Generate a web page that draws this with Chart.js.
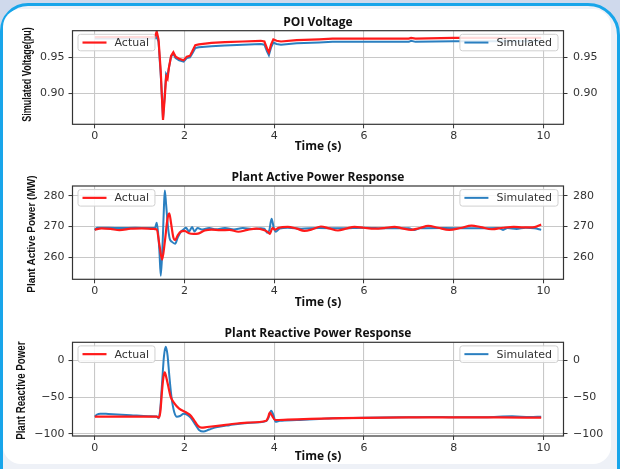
<!DOCTYPE html>
<html>
<head>
<meta charset="utf-8">
<script src="https://cdn.jsdelivr.net/npm/chart.js@4.4.0/dist/chart.umd.min.js"></script>
<style>
html,body{margin:0;padding:0;}
body{width:620px;height:469px;background:#cfd9ec;position:relative;overflow:hidden;}
#frame{position:absolute;left:0;top:3px;width:620px;height:472px;box-sizing:border-box;border:3px solid #18a5ea;border-radius:28px 32px 0 0;background:#eef1f7;}
#panel{position:absolute;left:0px;top:3px;right:6px;bottom:8px;background:#fff;border-radius:18px;}
canvas{position:absolute;left:0;}
</style>
</head>
<body>
<div id="frame"><div id="panel"></div></div>
<canvas id="c1" width="620" height="156" style="top:0px"></canvas>
<canvas id="c2" width="620" height="156" style="top:156px"></canvas>
<canvas id="c3" width="620" height="157" style="top:312px"></canvas>
<script>
// ---------- DATA ----------
const timeTicks = [0, 2, 4, 6, 8, 10];
const voltTicks = [0.90, 0.95];
const powTicks = [260, 270, 280];
const reacTicks = [-100, -50, 0];

// POI voltage (pu)
const voltTime = [0, 0.5, 1.0, 1.34, 1.38, 1.42, 1.47, 1.52, 1.56, 1.59, 1.62, 1.65, 1.70, 1.75, 1.80, 1.88, 1.98, 2.05, 2.12, 2.17, 2.24, 2.32, 2.6, 2.9, 3.3, 3.7, 3.78, 3.84, 3.88, 3.93, 3.98, 4.05, 4.15, 4.5, 5.0, 5.3, 6.0, 7.0, 7.05, 7.15, 8.0, 9.0, 9.95];
const voltActual = [0.978, 0.978, 0.978, 0.978, 0.986, 0.975, 0.930, 0.863, 0.895, 0.923, 0.920, 0.935, 0.952, 0.957, 0.951, 0.948, 0.946, 0.951, 0.952, 0.958, 0.967, 0.968, 0.970, 0.971, 0.972, 0.973, 0.972, 0.962, 0.957, 0.968, 0.975, 0.973, 0.972, 0.974, 0.975, 0.976, 0.976, 0.976, 0.977, 0.976, 0.977, 0.977, 0.977];
const voltSimulated = [0.976, 0.976, 0.976, 0.976, 0.978, 0.972, 0.925, 0.865, 0.900, 0.927, 0.924, 0.935, 0.951, 0.955, 0.949, 0.946, 0.944, 0.949, 0.950, 0.955, 0.963, 0.964, 0.9655, 0.9665, 0.9675, 0.9685, 0.9675, 0.958, 0.953, 0.964, 0.9705, 0.9685, 0.9675, 0.9695, 0.9705, 0.9715, 0.9715, 0.9715, 0.973, 0.9715, 0.9725, 0.9725, 0.9725];

// Plant active power (MW)
const powTimeActual = [0, 0.15, 0.35, 0.55, 0.8, 1.05, 1.3, 1.38, 1.44, 1.5, 1.56, 1.62, 1.66, 1.70, 1.75, 1.79, 1.85, 1.92, 2.0, 2.1, 2.2, 2.3, 2.45, 2.6, 2.8, 3.0, 3.2, 3.4, 3.6, 3.78, 3.86, 3.9, 3.96, 4.02, 4.1, 4.3, 4.5, 4.67, 4.85, 5.04, 5.22, 5.42, 5.6, 5.79, 6.0, 6.23, 6.45, 6.68, 6.85, 7.05, 7.25, 7.43, 7.65, 7.9, 8.15, 8.4, 8.6, 8.85, 9.1, 9.34, 9.55, 9.8, 9.95];
const powActual = [269.0, 269.4, 269.2, 268.8, 269.3, 269.4, 269.2, 269.0, 264.0, 259.2, 265.0, 272.5, 274.3, 271.0, 266.5, 265.6, 267.2, 268.4, 268.6, 267.8, 267.6, 267.7, 268.7, 269.0, 268.8, 268.9, 268.3, 268.9, 269.3, 268.8, 268.2, 267.6, 269.5, 269.0, 269.6, 269.9, 269.3, 268.6, 269.1, 270.0, 269.4, 268.7, 269.3, 269.9, 269.6, 269.3, 269.5, 269.9, 269.4, 268.9, 269.5, 270.2, 269.6, 268.9, 269.5, 270.3, 269.8, 269.1, 269.6, 269.9, 269.7, 269.8, 270.6];
const powTimeSim = [0, 0.05, 0.3, 0.6, 0.9, 1.2, 1.34, 1.38, 1.41, 1.44, 1.47, 1.51, 1.54, 1.56, 1.59, 1.63, 1.67, 1.72, 1.79, 1.85, 1.93, 1.99, 2.03, 2.1, 2.17, 2.22, 2.29, 2.4, 2.55, 2.7, 2.9, 3.1, 3.3, 3.5, 3.7, 3.78, 3.84, 3.89, 3.94, 3.99, 4.03, 4.12, 4.3, 4.6, 5.0, 5.5, 6.0, 6.5, 7.0, 7.12, 7.25, 7.8, 8.4, 9.0, 9.1, 9.2, 9.4, 9.6, 9.8, 9.95];
const powSimulated = [268.8, 269.6, 269.6, 269.5, 269.6, 269.5, 269.5, 271.2, 268.0, 262.0, 254.0, 264.0, 276.0, 281.7, 277.0, 270.0, 266.0, 265.0, 264.4, 266.5, 268.5, 269.2, 269.6, 268.4, 269.8, 268.4, 269.5, 269.0, 269.5, 269.1, 269.5, 269.0, 269.5, 269.2, 269.4, 269.3, 268.0, 268.8, 272.5, 269.5, 268.3, 269.3, 269.6, 269.3, 269.5, 269.4, 269.6, 269.4, 269.4, 268.9, 269.4, 269.5, 269.4, 269.5, 268.9, 269.5, 269.2, 269.6, 269.4, 268.9];

// Plant reactive power
const reacTimeActual = [0, 0.5, 1.0, 1.38, 1.43, 1.46, 1.5, 1.53, 1.56, 1.59, 1.63, 1.69, 1.77, 1.88, 2.03, 2.12, 2.2, 2.3, 2.38, 2.5, 2.92, 3.4, 3.82, 3.86, 3.9, 3.95, 4.02, 4.3, 4.8, 5.5, 6.0, 7.0, 8.0, 9.0, 9.95];
const reacActual = [-76.5, -76.5, -76.5, -76.5, -77.8, -70, -40, -22, -16, -22, -33, -49, -58, -65.5, -70.5, -74, -80, -89, -91.5, -90.5, -87.5, -84.5, -82, -78, -71, -75, -81, -80.5, -79.5, -78.5, -78, -77.5, -77.5, -77.5, -77.8];
const reacTimeSim = [0, 0.05, 0.12, 0.3, 0.8, 1.2, 1.38, 1.42, 1.46, 1.5, 1.54, 1.58, 1.62, 1.66, 1.71, 1.77, 1.83, 1.9, 1.98, 2.05, 2.14, 2.25, 2.33, 2.42, 2.55, 2.7, 3.0, 3.4, 3.82, 3.87, 3.93, 3.98, 4.03, 4.12, 4.5, 5.0, 5.3, 6.0, 6.8, 7.5, 8.0, 8.7, 9.3, 9.7, 9.95];
const reacSimulated = [-76.5, -73.5, -72.3, -72.8, -74.5, -75.8, -76.3, -78.5, -65, -30, 5, 19, 8, -20, -50, -70, -76.5, -75.5, -72.5, -73.5, -78, -88, -95, -96.8, -94, -91, -88, -85, -82.5, -78, -68.5, -74, -83.5, -82, -81, -79.5, -78.5, -78, -77.3, -76.8, -77.3, -77.2, -76, -77, -76.5];

// ---------- CHART HELPERS ----------
const zip = (xs, ys) => xs.map((x, i) => ({x: x, y: ys[i]}));
const TICK_FONT = {family: '"DejaVu Sans"', size: 11};
const TICK_COLOR = '#333333';
const GRID_COLOR = '#c8c8c8';

const framePlugin = {
  id: 'frame',
  afterDatasetsDraw(chart) {
    const {ctx, chartArea: a} = chart;
    ctx.save();
    ctx.strokeStyle = '#333';
    ctx.lineWidth = 1.2;
    ctx.strokeRect(a.left, a.top, a.right - a.left, a.bottom - a.top);
    ctx.restore();
  }
};

const legendPlugin = {
  id: 'twoLegends',
  afterDraw(chart) {
    const {ctx, chartArea: a} = chart;
    ctx.save();
    ctx.font = '11px "DejaVu Sans"';
    const items = [
      {ds: chart.data.datasets[0], side: 'left'},
      {ds: chart.data.datasets[1], side: 'right'}
    ];
    items.forEach(it => {
      const tw = ctx.measureText(it.ds.label).width;
      const w = 4.5 + 24 + 8 + tw + 6;
      const h = 16.5;
      const x = it.side === 'left' ? a.left + 5.5 : a.right - 5.5 - w;
      const y = a.top + 3.6;
      ctx.beginPath();
      ctx.roundRect(x, y, w, h, 2.5);
      ctx.fillStyle = 'rgba(255,255,255,0.85)';
      ctx.fill();
      ctx.strokeStyle = '#d0d0d0';
      ctx.lineWidth = 1;
      ctx.stroke();
      ctx.beginPath();
      ctx.moveTo(x + 4.5, y + h / 2);
      ctx.lineTo(x + 28.5, y + h / 2);
      ctx.strokeStyle = it.ds.borderColor;
      ctx.lineWidth = it.ds.borderWidth;
      ctx.stroke();
      ctx.fillStyle = '#333333';
      ctx.textBaseline = 'middle';
      ctx.textAlign = 'left';
      ctx.fillText(it.ds.label, x + 36.5, y + h / 2 + 0.5);
    });
    ctx.restore();
  }
};

// rotated, condensed y-axis label (real canvas text)
const yLabelPlugin = {
  id: 'yLabel',
  afterDraw(chart, args, opts) {
    const {ctx, chartArea: a} = chart;
    ctx.save();
    ctx.translate(opts.x, (a.top + a.bottom) / 2 + opts.dy);
    ctx.rotate(-Math.PI / 2);
    ctx.scale(opts.squeeze, 1);
    ctx.font = 'bold ' + opts.size + 'px "Liberation Sans"';
    ctx.fillStyle = '#111';
    ctx.textAlign = 'center';
    ctx.textBaseline = 'middle';
    ctx.fillText(opts.text, 0, 0);
    ctx.restore();
  }
};

function makeChart(id, o) {
  const yTickCfg = (pad) => ({
    font: TICK_FONT, color: TICK_COLOR, padding: pad, callback: o.fmt
  });
  return new Chart(document.getElementById(id), {
    type: 'line',
    data: {
      datasets: [
        {label: 'Actual', data: zip(o.actT, o.act), borderColor: '#ff1a1a', borderWidth: 2.2,
         pointRadius: 0, yAxisID: 'y', cubicInterpolationMode: o.smooth ? 'monotone' : 'default', tension: 0},
        {label: 'Simulated', data: zip(o.simT, o.sim), borderColor: '#2a7fc0', borderWidth: 2,
         pointRadius: 0, yAxisID: 'y2', cubicInterpolationMode: o.smooth ? 'monotone' : 'default', tension: 0}
      ]
    },
    options: {
      responsive: false,
      animation: false,
      events: [],
      layout: {padding: 0},
      plugins: {
        legend: {display: false},
        tooltip: {enabled: false},
        title: {
          display: true, text: o.title, fullSize: false, color: '#111',
          font: {family: '"Open Sans"', weight: 'bold', size: 12},
          padding: {top: o.tpTop, bottom: o.tpBottom}
        },
        yLabel: o.ylab
      },
      scales: {
        x: {
          type: 'linear', min: -0.4975, max: 10.4475,
          afterBuildTicks: s => { s.ticks = timeTicks.map(v => ({value: v})); },
          afterFit: s => { s.height = o.hx; },
          ticks: {font: TICK_FONT, color: TICK_COLOR, padding: 1.5, maxRotation: 0, callback: v => String(v)},
          grid: {color: GRID_COLOR, lineWidth: 1.1, tickLength: 4, tickColor: '#333', tickWidth: 1},
          border: {display: false},
          title: {display: true, text: 'Time (s)', color: '#111',
                  font: {family: '"Open Sans"', weight: 'bold', size: 12},
                  padding: {top: 0, bottom: o.xtb}}
        },
        y: {
          type: 'linear', position: 'left', min: o.min, max: o.max,
          afterBuildTicks: s => { s.ticks = o.ticks.map(v => ({value: v})); },
          afterFit: s => { s.width = 72.5; },
          ticks: yTickCfg(4),
          grid: {color: GRID_COLOR, lineWidth: 1.1, tickLength: 4, tickColor: '#333', tickWidth: 1},
          border: {display: false}
        },
        y2: {
          type: 'linear', position: 'right', min: o.min, max: o.max,
          afterBuildTicks: s => { s.ticks = o.ticks.map(v => ({value: v})); },
          afterFit: s => { s.width = 56.5; },
          ticks: yTickCfg(5.5),
          grid: {drawOnChartArea: false, tickLength: 4, tickColor: '#333', tickWidth: 1},
          border: {display: false}
        }
      }
    },
    plugins: [framePlugin, legendPlugin, yLabelPlugin]
  });
}

const minus = v => (v < 0 ? '\u2212' + Math.abs(v) : String(v));

makeChart('c1', {
  title: 'POI Voltage', tpTop: 15.5, tpBottom: 0.8, hx: 31.7, xtb: 2.1,
  actT: voltTime, act: voltActual, simT: voltTime, sim: voltSimulated,
  min: 0.857, max: 0.987, ticks: voltTicks, fmt: v => v.toFixed(2),
  ylab: {text: 'Simulated Voltage(pu)', x: 27.5, dy: -3, size: 12, squeeze: 0.75},
  smooth: false
});
makeChart('c2', {
  title: 'Plant Active Power Response', tpTop: 14.1, tpBottom: 1.5, hx: 32.7, xtb: 2.1,
  actT: powTimeActual, act: powActual, simT: powTimeSim, sim: powSimulated,
  min: 252.85, max: 283.15, ticks: powTicks, fmt: v => String(v),
  ylab: {text: 'Plant Active Power (MW)', x: 31.5, dy: 1.5, size: 11.5, squeeze: 0.87},
  smooth: true
});
makeChart('c3', {
  title: 'Plant Reactive Power Response', tpTop: 14.1, tpBottom: 1.8, hx: 33, xtb: 5.1,
  actT: reacTimeActual, act: reacActual, simT: reacTimeSim, sim: reacSimulated,
  min: -102.8, max: 25, ticks: reacTicks, fmt: minus,
  ylab: {text: 'Plant Reactive Power', x: 21.5, dy: 1.5, size: 12, squeeze: 0.81},
  smooth: true
});
</script>
</body>
</html>
